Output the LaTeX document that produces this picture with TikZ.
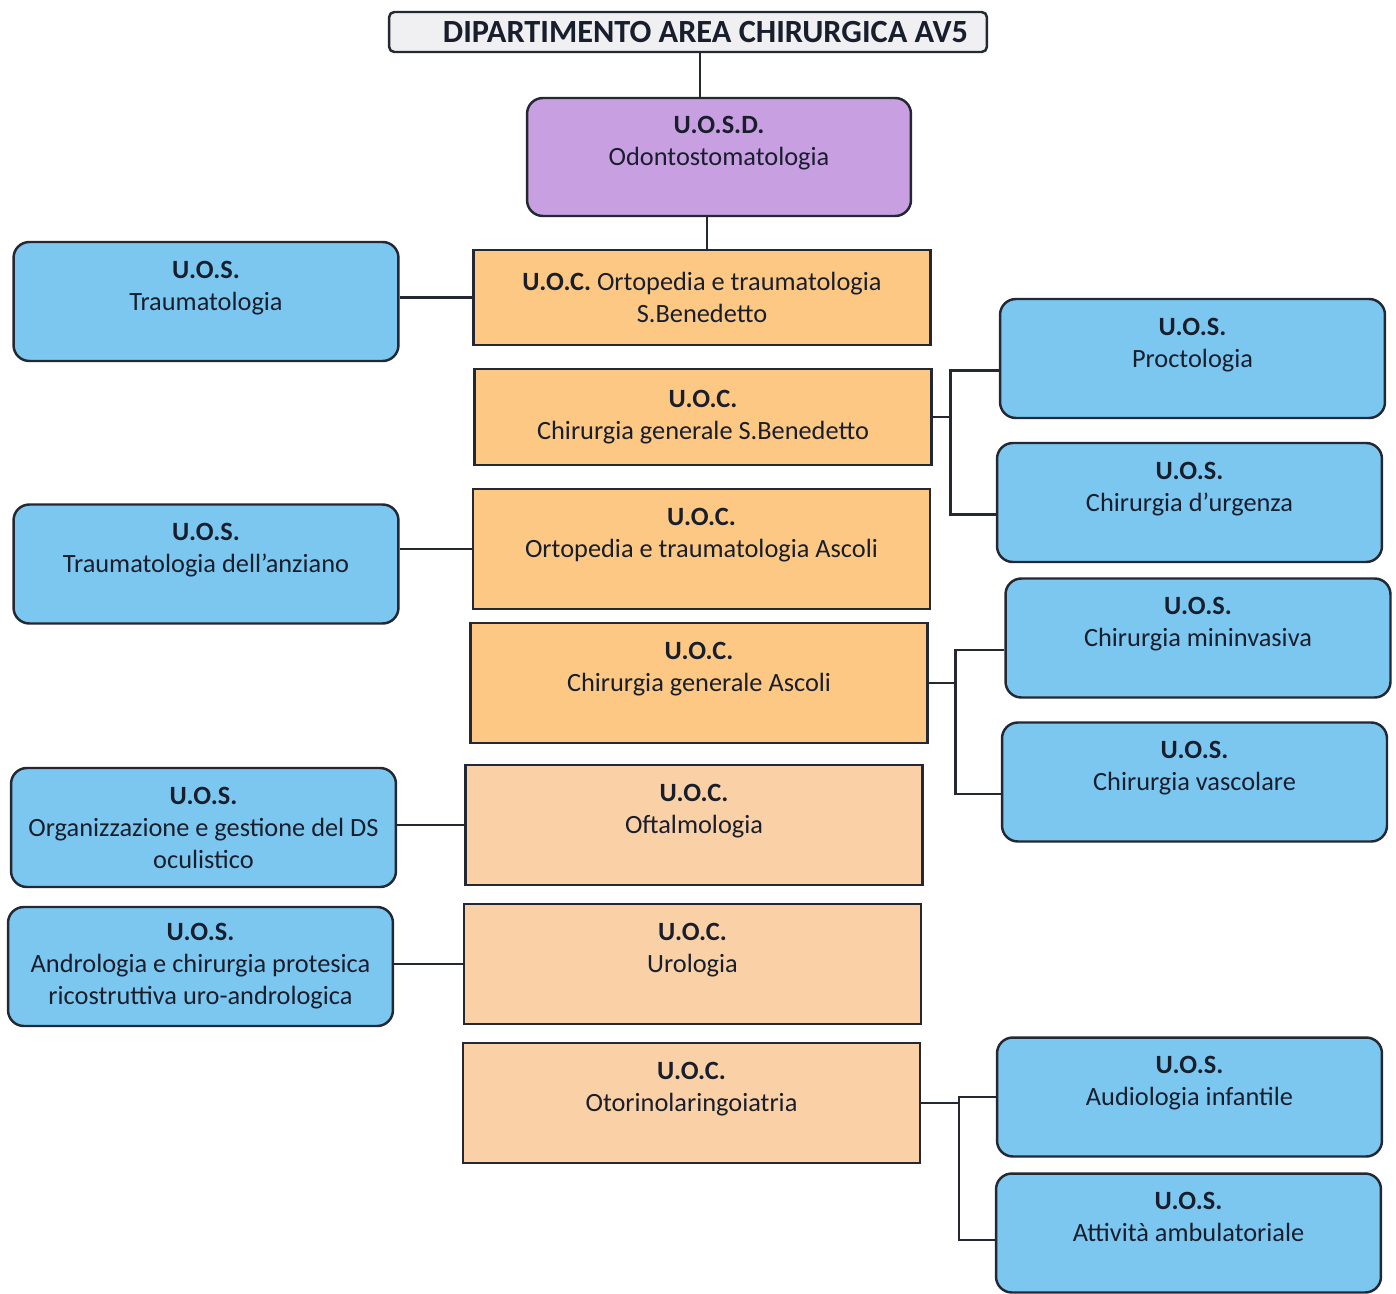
\documentclass[tikz,border=0pt]{standalone}
\usepackage{fontspec}
\setmainfont{Carlito}
\usepackage{tikz}
\usetikzlibrary{arrows}

\definecolor{bordo}{RGB}{35,40,50}
\definecolor{testo}{RGB}{25,30,45}
\definecolor{grigio}{RGB}{240,240,242}
\definecolor{viola}{RGB}{200,160,226}
\definecolor{arancio}{RGB}{252,200,132}
\definecolor{aranciochiaro}{RGB}{250,208,166}
\definecolor{azzurro}{RGB}{124,199,240}

\begin{document}
\begin{tikzpicture}[x=0.02cm,y=-0.02cm,semithick,
		every node/.style={text=testo,align=center,font=\fontsize{15}{18.2}\selectfont},
		titolo/.style={draw=bordo,line width=1.4pt,fill=grigio,rounded corners=3pt,minimum width=11.96cm,minimum height=0.8cm,font=\fontsize{18.4}{20}\selectfont\bfseries},
		uosd/.style={draw=bordo,line width=1.4pt,fill=viola,rounded corners=9pt,minimum width=7.68cm,minimum height=2.36cm},
		uoc/.style={draw=bordo,line width=1.2pt,fill=arancio,minimum width=9.14cm,minimum height=2.4cm},
		uocl/.style={uoc,fill=aranciochiaro},
		uos/.style={draw=bordo,line width=1.4pt,fill=azzurro,rounded corners=9pt,minimum width=7.7cm,minimum height=2.38cm},
		link/.style={draw=bordo,line width=1.4pt}]
			\useasboundingbox[fill=white] (0,0) rectangle (1396,1294);
			% colonna centrale
			\node[titolo] (dip)  at (688,32)    {\hspace{0.7cm}DIPARTIMENTO AREA CHIRURGICA AV5};
			\node[uosd]   (odo)  at (719,157)   {\textbf{U.O.S.D.}\\Odontostomatologia\\~};
			\node[uoc, minimum height=1.9cm]  (ortsb) at (702,297.5) {\textbf{U.O.C.} Ortopedia e traumatologia\\S.Benedetto};
			\node[uoc, minimum height=1.92cm] (chisb) at (703,417)   {\textbf{U.O.C.}\\Chirurgia generale S.Benedetto};
			\node[uoc]    (ortas) at (701.5,549) {\textbf{U.O.C.}\\Ortopedia e traumatologia Ascoli\\~};
			\node[uoc]    (chias) at (699,683)   {\textbf{U.O.C.}\\Chirurgia generale Ascoli\\~};
			\node[uocl]   (oft)   at (694,825)   {\textbf{U.O.C.}\\Oftalmologia\\~};
			\node[uocl]   (uro)   at (692.5,964) {\textbf{U.O.C.}\\Urologia\\~};
			\node[uocl]   (orl)   at (691.5,1103) {\textbf{U.O.C.}\\Otorinolaringoiatria\\~};
			% colonna sinistra
			\node[uos] (trau) at (206,301.5)   {\textbf{U.O.S.}\\Traumatologia\\~};
			\node[uos] (anz)  at (206,564)     {\textbf{U.O.S.}\\Traumatologia dell’anziano\\~};
			\node[uos] (ocu)  at (203.5,827.5) {\textbf{U.O.S.}\\Organizzazione e gestione del DS\\oculistico};
			\node[uos] (andr) at (200.5,966.5) {\textbf{U.O.S.}\\Andrologia e chirurgia protesica\\ricostruttiva uro-andrologica};
			% colonna destra
			\node[uos] (proc) at (1192.5,358.5) {\textbf{U.O.S.}\\Proctologia\\~};
			\node[uos] (urg)  at (1189.5,502.5) {\textbf{U.O.S.}\\Chirurgia d’urgenza\\~};
			\node[uos] (mini) at (1198,638)     {\textbf{U.O.S.}\\Chirurgia mininvasiva\\~};
			\node[uos] (vasc) at (1194.5,782)   {\textbf{U.O.S.}\\Chirurgia vascolare\\~};
			\node[uos] (aud)  at (1189.5,1097)  {\textbf{U.O.S.}\\Audiologia infantile\\~};
			\node[uos] (amb)  at (1188.5,1233)  {\textbf{U.O.S.}\\Attività ambulatoriale\\~};
			% collegamenti
			\draw[link] (dip.south -| 700,0) -- (odo.north -| 700,0);
			\draw[link] (odo.south -| 707,0) -- (ortsb.north -| 707,0);
			\draw[link] (ortsb.west) -- (ortsb.west -| trau.east);
			\draw[link] (ortas.west) -- (ortas.west -| anz.east);
			\draw[link] (oft.west)   -- (oft.west -| ocu.east);
			\draw[link] (uro.west)   -- (uro.west -| andr.east);
			\draw[link] (chisb.east) -- ++(18,0) coordinate (j1);
			\draw[link] ([yshift=-0.24cm]proc.west) -| (j1);
			\draw[link] ([yshift=-0.24cm]urg.west)  -| (j1);
			\draw[link] (chias.east) -- ++(27,0) coordinate (j2);
			\draw[link] ([yshift=-0.24cm]mini.west) -| (j2);
			\draw[link] ([yshift=-0.24cm]vasc.west) -| (j2);
			\draw[link] (orl.east) -- ++(38,0) coordinate (j3);
			\draw[link] (aud.west) -| (j3);
			\draw[link] ([yshift=-0.14cm]amb.west) -| (j3);
		\end{tikzpicture}
\end{document}
